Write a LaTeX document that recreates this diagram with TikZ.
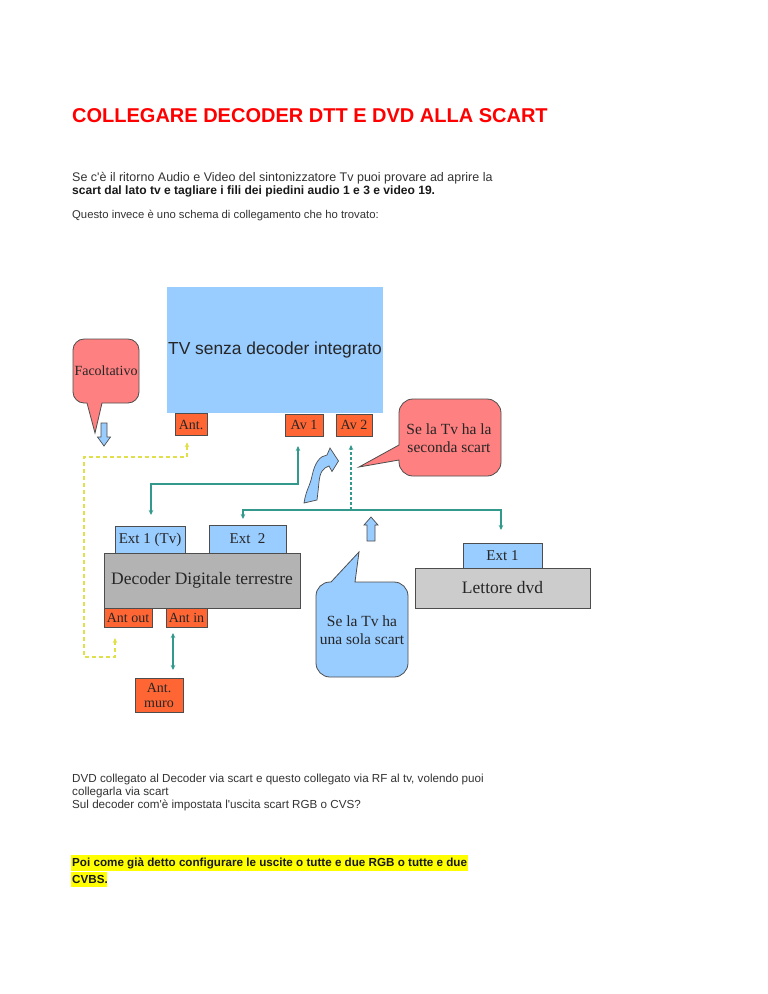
\documentclass[tikz,border=0pt]{standalone}
\usepackage{fontspec}
\setmainfont{Liberation Serif}
\setsansfont{Liberation Sans}
\usetikzlibrary{arrows.meta,calc}
\definecolor{tvblue}{HTML}{99CCFF}
\definecolor{orng}{HTML}{FF6633}
\definecolor{salmon}{HTML}{FF8080}
\definecolor{grayA}{HTML}{B3B3B3}
\definecolor{grayB}{HTML}{CCCCCC}
\definecolor{tealc}{HTML}{33998C}
\definecolor{yelc}{HTML}{E0E04A}
\definecolor{txtc}{HTML}{333333}
\definecolor{bordc}{HTML}{4D4D4D}
\definecolor{hilite}{HTML}{FFFF00}
\tikzset{
  base/.style={inner sep=0pt, outer sep=0pt, draw=bordc, line width=0.8pt, text=black!85, align=center},
  obox/.style={base, fill=orng, font=\fontsize{14}{16}\selectfont},
  bbox/.style={base, fill=tvblue, font=\fontsize{15}{17}\selectfont},
  gbox/.style={base, font=\fontsize{17.5}{20}\selectfont},
  callout/.style={draw=bordc, line width=0.8pt},
  calltext/.style={inner sep=0pt, text=black!85, align=center, font=\fontsize{15.5}{18}\selectfont},
  tl/.style={draw=tealc, line width=1.8pt, arrows={-}, >={Stealth[length=5pt,width=4.5pt]}},
  yl/.style={draw=yelc, line width=1.8pt, dash pattern=on 4pt off 3pt, >={Stealth[length=5pt,width=4.5pt]}},
  hollow/.style={fill=tvblue, draw=bordc, line width=0.7pt},
  body/.style={anchor=base west, inner sep=0pt, text=txtc, font=\sffamily\fontsize{11.65}{13}\selectfont},
  bodyb/.style={body, text=black!90, font=\sffamily\bfseries\fontsize{11.65}{13}\selectfont}
}
\begin{document}
\begin{tikzpicture}[x=1pt,y=-1pt]
\useasboundingbox (0,0) rectangle (768,994);
\fill[white] (0,0) rectangle (768,994);

% ---- text above ----
\node[anchor=base west, inner sep=0pt, text=red, font=\sffamily\bfseries\fontsize{20}{24}\selectfont] (title) at (72,122) {COLLEGARE DECODER DTT E DVD ALLA SCART};
\node[body, font=\sffamily\fontsize{12.5}{13}\selectfont] (p1) at (72,181.5) {Se c\textquotesingle è il ritorno Audio e Video del sintonizzatore Tv puoi provare ad aprire la};
\node[bodyb, font=\sffamily\bfseries\fontsize{12.07}{13}\selectfont] (p2) at (72,194.5) {scart dal lato tv e tagliare i fili dei piedini audio 1 e 3 e video 19.};
\node[body, font=\sffamily\fontsize{11.3}{13}\selectfont] (p3) at (72,218) {Questo invece è uno schema di collegamento che ho trovato:};

% ---- diagram boxes ----
\node[inner sep=0pt, fill=tvblue, minimum width=216pt, minimum height=126pt, text=black!85, font=\sffamily\fontsize{17.4}{20}\selectfont] (tv) at (275,350) {TV senza decoder integrato};
\node[obox, minimum width=32pt, minimum height=21.5pt] (ant) at (191,424.5) {Ant.};
\node[obox, minimum width=38pt, minimum height=22pt] (av1) at (304,425) {Av 1};
\node[obox, minimum width=36pt, minimum height=22pt] (av2) at (354,425) {Av 2};

\node[bbox, minimum width=70pt, minimum height=27pt] (ext1tv) at (150,539.5) {Ext 1 (Tv)};
\node[bbox, minimum width=77pt, minimum height=28pt] (ext2) at (247.5,539) {Ext\ \ 2};
\node[gbox, fill=grayA, minimum width=196pt, minimum height=55pt] (dec) at (202,580.5) {Decoder Digitale terrestre};
\node[obox, minimum width=48pt, minimum height=19pt] (antout) at (128,617.5) {Ant out};
\node[obox, minimum width=41pt, minimum height=19pt] (antin) at (186.5,617.5) {Ant in};
\node[obox, minimum width=48pt, minimum height=34pt, font=\fontsize{14}{15}\selectfont] (antmuro) at (159,695) {Ant.\\muro};

\node[bbox, minimum width=79pt, minimum height=25pt] (dvdext) at (502.5,555.5) {Ext 1};
\node[gbox, fill=grayB, minimum width=175pt, minimum height=40pt] (dvd) at (502.5,588) {Lettore dvd};

% ---- callouts ----
\path[callout, fill=salmon] (84,339) -- (128,339) .. controls (134,339) and (139,344) .. (139,350) -- (139,392) .. controls (139,398) and (134,403) .. (128,403) -- (102,403) -- (95,433) -- (87,403) -- (84,403) .. controls (78,403) and (73,398) .. (73,392) -- (73,350) .. controls (73,344) and (78,339) .. (84,339) -- cycle;
\node[calltext, font=\fontsize{14}{16}\selectfont] (fac) at (106,371) {Facoltativo};

\path[callout, fill=salmon] (413,399) -- (487,399) .. controls (494.7,399) and (501,405.3) .. (501,413) -- (501,462) .. controls (501,469.7) and (494.7,476) .. (487,476) -- (413,476) .. controls (405.3,476) and (399,469.7) .. (399,462) -- (399,460) -- (359,467) -- (399,445) -- (399,413) .. controls (399,405.3) and (405.3,399) .. (413,399) -- cycle;
\node[calltext] (c2) at (449,438) {Se la Tv ha la\\seconda scart};

\path[callout, fill=tvblue] (331,582) -- (359,552) -- (355,582) -- (394,582) .. controls (401.7,582) and (408,588.3) .. (408,596) -- (408,663) .. controls (408,670.7) and (401.7,677) .. (394,677) -- (330,677) .. controls (322.3,677) and (316,670.7) .. (316,663) -- (316,596) .. controls (316,588.3) and (322.3,582) .. (330,582) -- cycle;
\node[calltext] (c3) at (362,630) {Se la Tv ha\\una sola scart};

% ---- hollow arrows ----
\path[hollow] (101,423) -- (107,423) -- (107,437) -- (110.5,437) -- (104,446) -- (97.5,437) -- (101,437) -- cycle;
\path[hollow] (371,517) -- (378,525) -- (375,525) -- (375,541) -- (367,541) -- (367,525) -- (364,525) -- cycle;
\path[hollow] (304,503) .. controls (306,490) and (310,486) .. (312,476) .. controls (315,462) and (320,456) .. (327,455) -- (330,448) -- (338.5,461) -- (332,471.5) -- (329,466) .. controls (323,468) and (320,472) .. (319,482) .. controls (318,492) and (317.5,496) .. (317,500) -- cycle;

% ---- connectors ----
\draw[tl,<->] ($(av1.south)+(-6,10)$) -- ++(0,38) -| ($(ext1tv.north)+(1,-11)$);
\draw[tl,<->] ($(ext2.north)+(-4.5,-6)$) -- ++(0,-9) -| ($(dvdext.north)+(-1.5,-13)$);
\coordinate (junc) at (351,510);
\draw[tl,dash pattern=on 3pt off 2pt,->] (junc) -- ($(av2.south)+(-3,9)$);
\draw[tl,<->] ($(antin.south)+(-13.5,6)$) -- ($(antmuro.north)+(14,-8)$);
\draw[yl,<->] ($(antout.south)+(-13,11)$) -- ++(0,19) -- ++(-31,0) -- ++(0,-200) -| ($(ant.south)+(-4,7)$);

% ---- text below ----
\node[body] (q1) at (72,782.5) {DVD collegato al Decoder via scart e questo collegato via RF al tv, volendo puoi};
\node[body] (q2) at (72,795.5) {collegarla via scart};
\node[body] (q3) at (72,808.5) {Sul decoder com\textquotesingle è impostata l\textquotesingle uscita scart RGB o CVS?};
\fill[hilite] (71,855) rectangle (467.5,870.5);
\fill[hilite] (71,871.5) rectangle (106.5,886.5);
\node[bodyb] (h1) at (72,866) {Poi come già detto configurare le uscite o tutte e due RGB o tutte e due};
\node[bodyb] (h2) at (72,883) {CVBS.};
\end{tikzpicture}
\end{document}
